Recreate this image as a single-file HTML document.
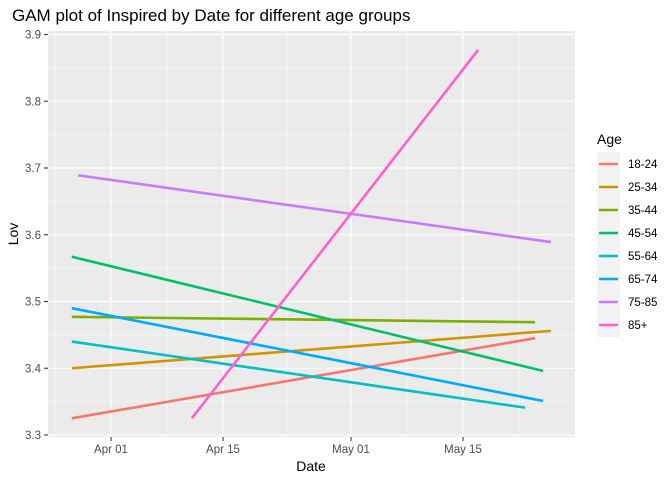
<!DOCTYPE html>
<html><head><meta charset="utf-8"><style>
body{margin:0;background:#fff;}
svg{font-family:"Liberation Sans",Arial,sans-serif;display:block}
</style></head><body>
<svg id="chart" width="672" height="480" xmlns="http://www.w3.org/2000/svg">
<text x="12" y="21" font-size="17" fill="#000">GAM plot of Inspired by Date for different age groups</text>
<rect x="48" y="31" width="527" height="406" fill="#EBEBEB"/>
<g id="grid"></g><g id="series"></g><g id="axes"></g>
<text x="311" y="471" font-size="14" text-anchor="middle">Date</text>
<text transform="translate(18,234) rotate(-90)" font-size="14" text-anchor="middle">Lov</text>
<g id="legend"></g>
</svg>
<script>
const groups=["18-24","25-34","35-44","45-54","55-64","65-74","75-85","85+"];
const colors=["#F8766D","#CD9600","#7CAE00","#00BE67","#00BFC4","#00A9FF","#C77CFF","#FF61CC"];
// days relative to Apr 01
const startDay=[-4.9,-4.9,-4.9,-4.9,-4.9,-4.9,-4.1,10.1];
const endDay=[53,55,53,54,51.75,54,55,45.9];
const startVal=[3.325,3.40,3.477,3.567,3.44,3.49,3.689,3.325];
const endVal=[3.445,3.456,3.469,3.396,3.341,3.351,3.589,3.877];
const yTicks=[3.3,3.4,3.5,3.6,3.7,3.8,3.9];
const xTickDays=[0,14,30,44];
const xTickLabels=["Apr 01","Apr 15","May 01","May 15"];
const xMinorDays=[-7,7,22,37,51];
const NS="http://www.w3.org/2000/svg";
const X=d=>111+d*8;
const Y=v=>435-(v-3.3)*667.5;
function mk(tag,attrs,parent,text){const e=document.createElementNS(NS,tag);for(const k in attrs)e.setAttribute(k,attrs[k]);if(text!==undefined)e.textContent=text;parent.appendChild(e);return e;}
const grid=document.getElementById('grid'),axes=document.getElementById('axes'),series=document.getElementById('series'),legend=document.getElementById('legend');
for(let i=0;i<yTicks.length-1;i++){const y=Y(yTicks[i]+0.05);const l=mk('line',{x1:48,x2:575,y1:y,y2:y,stroke:'#fff','stroke-width':0.55},grid);

}
xMinorDays.forEach(d=>{const x=X(d);if(x<48)return;const l=mk('line',{x1:x,x2:x,y1:31,y2:437,stroke:'#fff','stroke-width':0.55},grid);

});
yTicks.forEach(v=>{const y=Y(v);const l=mk('line',{x1:48,x2:575,y1:y,y2:y,stroke:'#fff','stroke-width':1.1},grid);


mk('line',{x1:44,x2:48,y1:y,y2:y,stroke:'#333','stroke-width':1.1},axes);
const t=mk('text',{x:41,y:y+4,'font-size':11.5,'text-anchor':'end',fill:'#4D4D4D'},axes,v.toFixed(1));

});
xTickDays.forEach((d,i)=>{const x=X(d);const l=mk('line',{x1:x,x2:x,y1:31,y2:437,stroke:'#fff','stroke-width':1.1},grid);


mk('line',{x1:x,x2:x,y1:437,y2:441,stroke:'#333','stroke-width':1.1},axes);
const t=mk('text',{x:x,y:453,'font-size':11.5,'text-anchor':'middle',fill:'#4D4D4D'},axes,xTickLabels[i]);

});
groups.forEach((g,i)=>{const l=mk('line',{x1:X(startDay[i]),y1:Y(startVal[i]),x2:X(endDay[i]),y2:Y(endVal[i]),stroke:colors[i],'stroke-width':2.6},series);

});
const lt=mk('text',{x:597,y:144,'font-size':14},legend,'Age');


mk('rect',{x:597,y:152,width:23,height:185,fill:'#F2F2F2'},legend);
groups.forEach((g,i)=>{const y=164+i*23;const k=mk('line',{x1:599,x2:618,y1:y,y2:y,stroke:colors[i],'stroke-width':2.6},legend);


const t=mk('text',{x:628,y:y+4,'font-size':11.5},legend,g);

});
</script>
</body></html>
